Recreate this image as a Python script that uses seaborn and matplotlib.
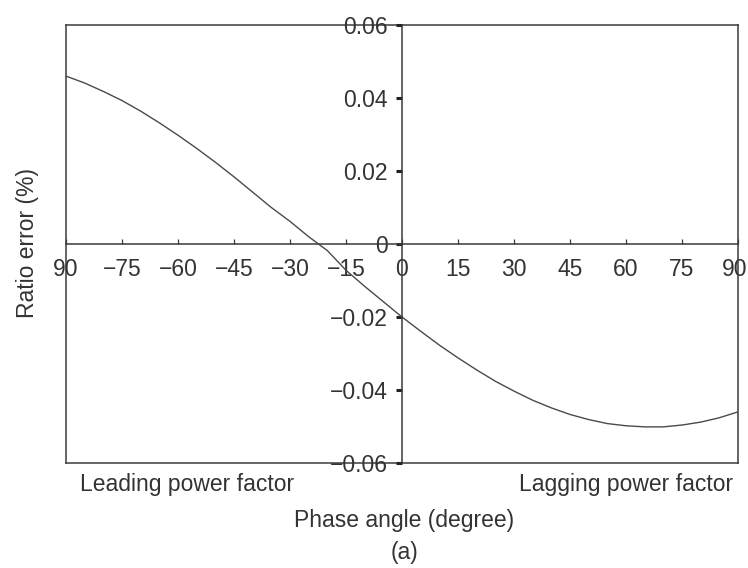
import matplotlib
matplotlib.use("Agg")
import matplotlib.pyplot as plt
import matplotlib.transforms as mtransforms
import seaborn as sns
import pandas as pd

# Data
phase_angle = [-90, -85, -80, -75, -70, -65, -60, -55, -50, -45, -40, -35, -30, -25, -20,
               -15, -10, -5, 0, 5, 10, 15, 20, 25, 30, 35, 40, 45, 50, 55, 60, 65, 70,
               75, 80, 85, 90]
ratio_error = [0.0460, 0.0441, 0.0418, 0.0393, 0.0364, 0.0332, 0.0298, 0.0262, 0.0224,
               0.0184, 0.0142, 0.0100, 0.0062, 0.0020, -0.0018, -0.0072, -0.0116, -0.0158,
               -0.0200, -0.0239, -0.0277, -0.0312, -0.0345, -0.0376, -0.0403, -0.0428,
               -0.0449, -0.0467, -0.0481, -0.0492, -0.0498, -0.0501, -0.0501, -0.0496,
               -0.0488, -0.0476, -0.0460]
x_ticks = [-90, -75, -60, -45, -30, -15, 0, 15, 30, 45, 60, 75, 90]
x_tick_labels = ["90", "\u221275", "\u221260", "\u221245", "\u221230", "\u221215", "0",
                 "15", "30", "45", "60", "75", "90"]
y_ticks = [-0.06, -0.04, -0.02, 0, 0.02, 0.04, 0.06]
y_tick_labels = ["\u22120.06", "\u22120.04", "\u22120.02", "0", "0.02", "0.04", "0.06"]

df = pd.DataFrame({"angle": phase_angle, "err": ratio_error})

sns.set_theme(style="white")
plt.rcParams["font.family"] = ["Liberation Sans", "DejaVu Sans"]

W, H = 748, 568
fig = plt.figure(figsize=(W / 100, H / 100), dpi=100)
pos = [66 / W, 1 - 463 / H, (738 - 66) / W, (463 - 25) / H]

axc = "#3a3a3a"
fs = 16.5

# frame axes
ax = fig.add_axes(pos)
ax.set_xlim(-90, 90)
ax.set_ylim(-0.06, 0.06)
ax.set_xticks([])
ax.set_yticks([])
for s in ax.spines.values():
    s.set_visible(True)
    s.set_color(axc)
    s.set_linewidth(1.1)
ax.patch.set_alpha(0)

# centered axes
ax2 = fig.add_axes(pos)
ax2.patch.set_alpha(0)
ax2.set_xlim(-90, 90)
ax2.set_ylim(-0.06, 0.06)
ax2.spines["left"].set_position(("data", 0))
ax2.spines["bottom"].set_position(("data", 0))
ax2.spines["top"].set_visible(False)
ax2.spines["right"].set_visible(False)
for k in ("left", "bottom"):
    ax2.spines[k].set_color(axc)
    ax2.spines[k].set_linewidth(1.1)

sns.lineplot(data=df, x="angle", y="err", ax=ax2, color="#4a4a4a", linewidth=1.0)
ax2.set_xlabel("")
ax2.set_ylabel("")

ax2.set_xticks(x_ticks)
ax2.set_xticklabels(x_tick_labels)
ax2.set_yticks(y_ticks)
ax2.set_yticklabels(y_tick_labels)
ax2.tick_params(axis="x", direction="in", length=3.5, width=0.9, color=axc,
                pad=10, labelsize=fs, labelcolor="#333333", bottom=True)
ax2.tick_params(axis="y", direction="out", length=4.5, width=2.2, color="#222222",
                pad=6, labelsize=fs, labelcolor="#333333", left=True)
ax2.set_xlim(-90, 90)
ax2.set_ylim(-0.06, 0.06)
# keep the last x label inside the figure edge
last = ax2.get_xticklabels()[-1]
last.set_transform(last.get_transform() + mtransforms.ScaledTranslation(-3 / 100, 0, fig.dpi_scale_trans))

tc = "#333333"
fig.text(28 / W, 1 - 243 / H, "Ratio error (%)", rotation=90, ha="center", va="center",
         fontsize=fs, color=tc)
fig.text(80 / W, 1 - 484 / H, "Leading power factor", ha="left", va="center",
         fontsize=fs, color=tc)
fig.text(733 / W, 1 - 484 / H, "Lagging power factor", ha="right", va="center",
         fontsize=fs, color=tc)
fig.text(404 / W, 1 - 520 / H, "Phase angle (degree)", ha="center", va="center",
         fontsize=fs, color=tc)
fig.text(404 / W, 1 - 552 / H, "(a)", ha="center", va="center", fontsize=fs, color=tc)

fig.savefig("out.png", dpi=100, facecolor="white")
